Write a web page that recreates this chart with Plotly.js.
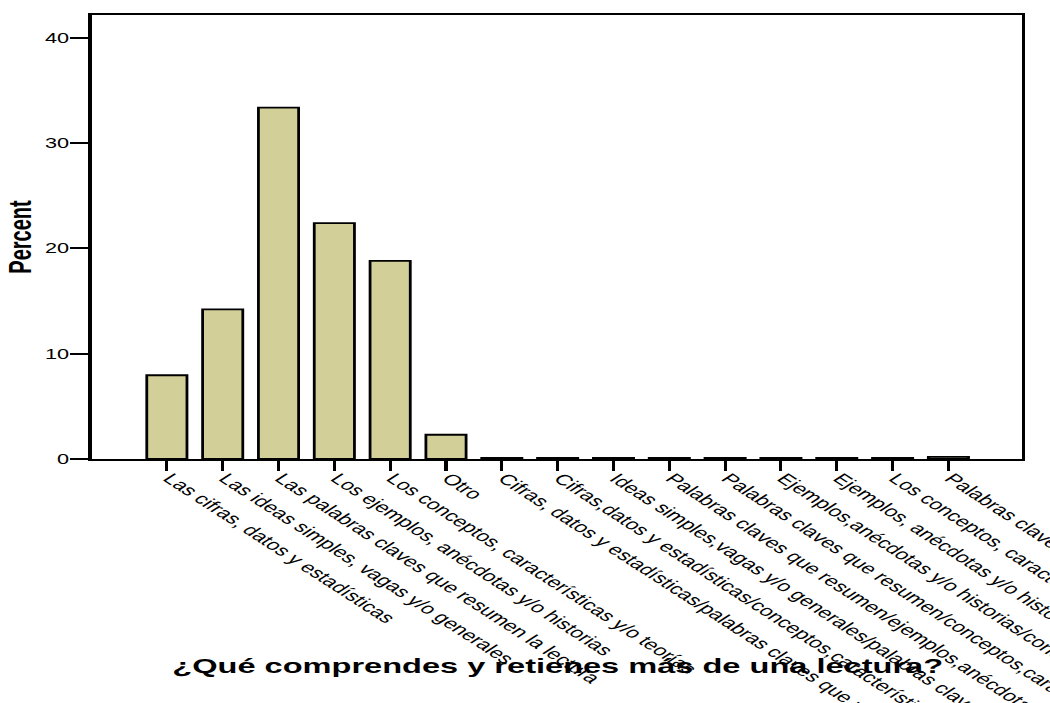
<!DOCTYPE html>
<html>
<head>
<meta charset="utf-8">
<script src="https://cdn.plot.ly/plotly-3.0.1.min.js"></script>
<style>
html,body{margin:0;padding:0;overflow:hidden;background:#fff;width:1050px;height:703px}
#wrap{width:1050px;height:703px;overflow:hidden;position:relative}
#chart{width:677px;height:703px;transform:scaleX(1.551);transform-origin:0 0}
</style>
</head>
<body>
<div id="wrap"><div id="chart"></div></div>
<script>
const categories = [
  "Las cifras, datos y estadísticas",
  "Las ideas simples, vagas y/o generales",
  "Las palabras claves que resumen la lectura",
  "Los ejemplos, anécdotas y/o historias",
  "Los conceptos, características y/o teorías",
  "Otro",
  "Cifras, datos y estadísticas/palabras claves que resumen la lectura",
  "Cifras,datos y estadísticas/conceptos,características y/o teorías",
  "Ideas simples,vagas y/o generales/palabras claves que resumen la lectura",
  "Palabras claves que resumen/ejemplos,anécdotas y/o historias",
  "Palabras claves que resumen/conceptos,características y/o teorías",
  "Ejemplos,anécdotas y/o historias/conceptos,características y/o teorías",
  "Ejemplos, anécdotas y/o historias/palabras claves que resumen la lectura",
  "Los conceptos, características y/o teorías/ejemplos, anécdotas y/o historias",
  "Palabras claves/conceptos, características y/o teorías"
];
const percents = [7.95, 14.2, 33.35, 22.4, 18.8, 2.3, 0.1, 0.1, 0.1, 0.1, 0.1, 0.1, 0.1, 0.1, 0.2];
const yTickValues = [0, 10, 20, 30, 40];
const yTitle = "Percent";
const xTitle = "¿Qué comprendes y retienes más de una lectura?";

const FONT = "Arial, 'Liberation Sans', sans-serif";

const trace = {
  type: "bar",
  x: categories,
  y: percents,
  marker: {color: "#d3cf99", line: {color: "#000", width: 1.8}},
  hoverinfo: "none"
};

const layout = {
  width: 677,
  height: 703,
  margin: {l: 59.3, r: 17.7, t: 15, b: 244.3, pad: 0},
  paper_bgcolor: "#fff",
  plot_bgcolor: "#fff",
  showlegend: false,
  bargap: 0.28,
  font: {family: FONT, color: "#000"},
  xaxis: {
    type: "category",
    categoryorder: "array",
    categoryarray: categories,
    range: [-1.35, 15.32],
    showline: true, mirror: true, linecolor: "#000", linewidth: 2,
    showgrid: false, zeroline: false,
    ticks: "outside", ticklen: 10, tickwidth: 2, tickcolor: "#000",
    tickangle: 45,
    ticklabelstandoff: -7,
    ticklabelshift: 2,
    tickfont: {family: FONT, size: 15, color: "#000"},
    automargin: false
  },
  yaxis: {
    range: [0, 42.15],
    tickvals: yTickValues,
    ticktext: yTickValues.map(String),
    showline: true, mirror: true, linecolor: "#000", linewidth: 2,
    showgrid: false, zeroline: false,
    ticks: "outside", ticklen: 11.6, tickwidth: 2, tickcolor: "#000",
    ticklabelstandoff: -2,
    tickfont: {family: FONT, size: 14, color: "#000"},
    title: {text: yTitle, font: {family: FONT, size: 20, color: "#000", weight: "bold"}, standoff: 3},
    automargin: false
  },
  annotations: [{
    text: "<b>" + xTitle + "</b>",
    xref: "paper", yref: "paper",
    x: 0.5, y: -0.465,
    xanchor: "center", yanchor: "middle",
    showarrow: false,
    font: {family: FONT, size: 21, color: "#000"}
  }]
};

Plotly.newPlot("chart", [trace], layout, {staticPlot: true, displayModeBar: false});
</script>
</body>
</html>
